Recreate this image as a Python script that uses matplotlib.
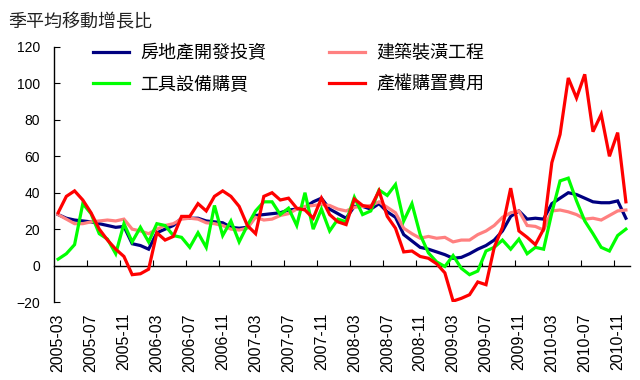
import numpy as np
import pandas as pd
import matplotlib
matplotlib.use("Agg")
import matplotlib.pyplot as plt

plt.rcParams['font.family'] = ['Liberation Sans', 'Noto Sans CJK TC', 'DejaVu Sans']

# 月份 2005-03 .. 2010-12
months = pd.date_range("2005-03", "2010-12", freq="MS").strftime("%Y-%m").tolist()

# 房地產開發投資
real_estate = [28, 26, 25, 24.5, 24, 23, 22, 21, 21.5, 12, 11, 9, 18, 20, 22, 26, 26, 26,
               24.5, 24, 23.5, 21, 20.5, 21, 27.5, 28, 28.5, 29, 30.5, 31, 32, 35, 37, 31,
               28.5, 26, 32.5, 32.5, 31, 34, 29.5, 26.5, 17, 13.5, 10, 9, 7.5, 6, 4, 4.5,
               6.5, 9, 11, 14, 19, 27, 30, 25.5, 26, 25.5, 34, 37, 40, 39, 37, 35, 34.5,
               34.5, 35.5, 26]
# 建築裝潢工程
construction = [28, 25.5, 23, 23, 24, 24.5, 25, 24.5, 25.5, 20, 19, 17.5, 20, 22, 23, 25.5,
                26, 25.5, 23.5, 23, 22, 20, 19.5, 20.5, 26.5, 25, 25.5, 27.5, 28.5, 31, 32.5,
                33, 33.5, 33, 31, 30, 32, 32.5, 33, 35, 32, 29, 20.5, 17.5, 15, 16, 15, 15.5,
                13, 14, 14, 17, 19, 22, 26.5, 29, 30, 22, 21.5, 19.5, 30, 30.5, 29.5, 28,
                25.5, 26, 25, 27.5, 30, 30.5]
# 工具設備購買
equipment = [3.5, 6.5, 11.5, 34, 28.5, 17.5, 14.5, 6.5, 23, 13, 21, 13, 23, 22, 16.5, 15.5,
             10, 18, 10, 33, 16.5, 24.5, 13, 22, 30, 35, 35, 28, 31.5, 22, 40, 20, 31, 19,
             25.5, 24, 37.5, 28, 30, 41.5, 38.5, 44.5, 24.5, 34, 17, 7, 2, -0.5, 5.5, -1.5,
             -5, -3, 8, 10, 14, 9, 14.5, 6.5, 10, 9, 29, 46.5, 48, 35.5, 24.5, 17.5, 10,
             8, 16.5, 20]
# 產權購置費用
property_rights = [29, 38, 41, 36, 29, 20, 14, 9, 5, -5, -4.5, -2, 18, 14, 16, 27, 27, 34,
                   30, 38, 41, 38, 32.5, 22, 17.5, 38, 40, 36, 37, 31.5, 30.5, 26, 37, 28,
                   24, 22.5, 36.5, 33, 32, 41, 27, 20.5, 7.5, 8, 5, 4, 1, -4, -19.5, -18,
                   -16, -9, -10.5, 10, 21, 42.5, 19, 15.5, 11.5, 20, 56.5, 72, 103, 92, 105,
                   73.5, 83, 60, 73, 35]

series = [
    ("房地產開發投資", real_estate, "#000080"),
    ("建築裝潢工程", construction, "#FF8080"),
    ("工具設備購買", equipment, "#00FF00"),
    ("產權購置費用", property_rights, "#FF0000"),
]

ymin, ymax = -20, 120
x = np.arange(len(months))

fig = plt.figure(figsize=(6.4, 3.8), dpi=100)
ax = fig.add_axes([54 / 640, 1 - 302 / 380, 576 / 640, 255 / 380])

lines = {}
for name, vals, col in series:
    lines[name], = ax.plot(x, vals, color=col, lw=2.3, solid_joinstyle='miter')

ax.set_xlim(-0.5, len(months) - 0.5)
ax.set_ylim(ymin, ymax)
ax.set_yticks(np.arange(ymin, ymax + 1, 20))
ax.tick_params(axis='y', direction='in', length=4, labelsize=10, pad=10)

# x labels at the category centres, every 4 months
ax.set_xticks(x[::4])
ax.set_xticklabels(months[::4], rotation=90, fontsize=11.5)
ax.tick_params(axis='x', length=0, pad=8)

for s in ['top', 'right', 'bottom']:
    ax.spines[s].set_visible(False)
ax.spines['left'].set_linewidth(1)

# category axis crossing at zero, ticks between categories
sec = ax.secondary_xaxis((0 - ymin) / (ymax - ymin))
sec.set_xticks(x[4::4] - 0.5)
sec.tick_params(direction='in', length=4, labelbottom=False)
sec.spines['bottom'].set_linewidth(1)

# legend: two columns, frameless
order = ["房地產開發投資", "工具設備購買", "建築裝潢工程", "產權購置費用"]
fig.legend([lines[n] for n in order], order, ncol=2, frameon=False,
           loc='upper left', bbox_to_anchor=(93 / 640, 1 - 44 / 380),
           prop={'family': ['Noto Sans CJK TC'], 'size': 13},
           handlelength=2.0, handletextpad=0.6, columnspacing=3.5,
           labelspacing=0.75, borderpad=0, borderaxespad=0)

fig.text(8 / 640, 1 - 22 / 380, "季平均移動增長比", fontsize=13,
         family=['Noto Sans CJK TC'], va='center', ha='left', color='#222222')

fig.savefig("out.png", dpi=100)
